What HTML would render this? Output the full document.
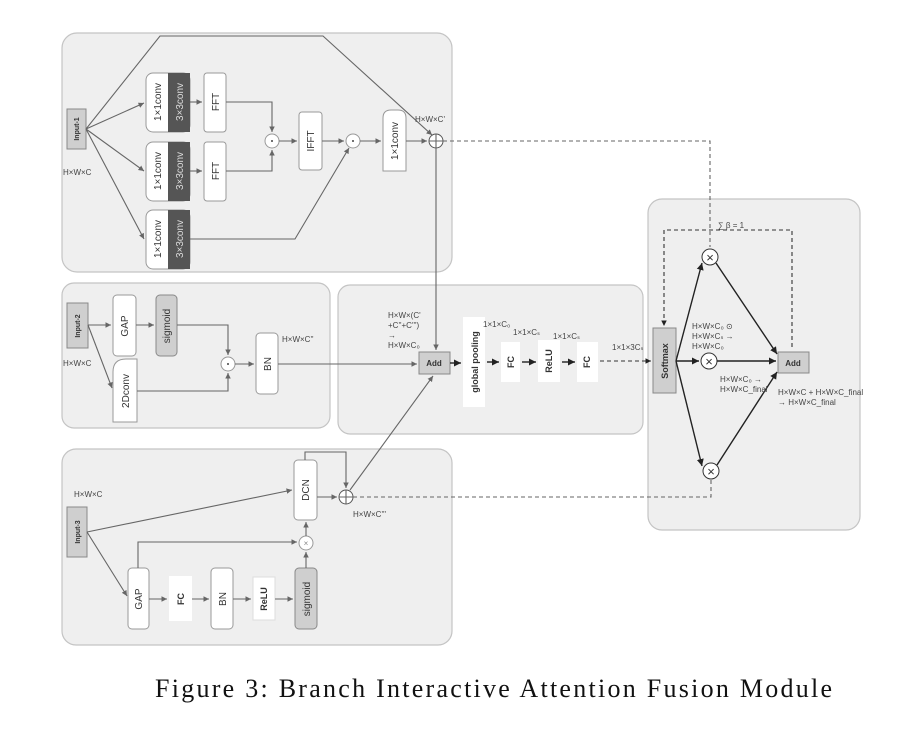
<!DOCTYPE html>
<html><head><meta charset="utf-8"><style>
html,body{margin:0;padding:0;background:#fff;}
svg{display:block;font-family:"Liberation Sans",Arial,sans-serif;}
.p{fill:#efefef;stroke:#c4c4c4;stroke-width:1.2}
.b{fill:#fff;stroke:#999;stroke-width:1}
.g{fill:#cfcfcf;stroke:#888;stroke-width:1}
.l{stroke:#666;stroke-width:1.1;fill:none}
.k{stroke:#222;stroke-width:1.4;fill:none}
.d{stroke:#666;stroke-width:1.1;fill:none;stroke-dasharray:4,3}
.t{font-size:8px;fill:#444}
.r{font-size:10px;fill:#333}
</style></head><body>
<svg width="921" height="737" viewBox="0 0 921 737">
<defs>
<marker id="a" markerWidth="6" markerHeight="6" refX="5" refY="3" orient="auto"><path d="M0,0.5 L5,3 L0,5.5z" fill="#666"/></marker>
<marker id="ak" markerWidth="6" markerHeight="6" refX="5" refY="3" orient="auto"><path d="M0,0.5 L5,3 L0,5.5z" fill="#222"/></marker>
</defs>
<rect class="p" x="62" y="33" width="390" height="239" rx="15"/>
<rect class="p" x="62" y="283" width="268" height="145" rx="12"/>
<rect class="p" x="62" y="449" width="390" height="196" rx="14"/>
<rect class="p" x="338" y="285" width="305" height="149" rx="12"/>
<rect class="p" x="648" y="199" width="212" height="331" rx="14"/>

<rect class="g" x="67" y="109" width="19" height="40"/>
<text transform="translate(79,129) rotate(-90)" text-anchor="middle" font-size="7" font-weight="bold" fill="#333">Input-1</text>
<text class="t" x="63" y="175">H×W×C</text>
<g>
<rect class="b" x="146" y="73" width="44" height="59" rx="7"/><rect x="168" y="73" width="22" height="59" fill="#555"/>
<rect class="b" x="146" y="142" width="44" height="59" rx="7"/><rect x="168" y="142" width="22" height="59" fill="#555"/>
<rect class="b" x="146" y="210" width="44" height="59" rx="7"/><rect x="168" y="210" width="22" height="59" fill="#555"/>
<text transform="translate(161,102) rotate(-90)" text-anchor="middle" class="r">1×1conv</text>
<text transform="translate(183,102) rotate(-90)" text-anchor="middle" class="r" style="fill:#ddd">3×3conv</text>
<text transform="translate(161,171) rotate(-90)" text-anchor="middle" class="r">1×1conv</text>
<text transform="translate(183,171) rotate(-90)" text-anchor="middle" class="r" style="fill:#ddd">3×3conv</text>
<text transform="translate(161,239) rotate(-90)" text-anchor="middle" class="r">1×1conv</text>
<text transform="translate(183,239) rotate(-90)" text-anchor="middle" class="r" style="fill:#ddd">3×3conv</text>
</g>
<rect class="b" x="204" y="73" width="22" height="59" rx="3"/><text transform="translate(219,102) rotate(-90)" text-anchor="middle" class="r">FFT</text>
<rect class="b" x="204" y="142" width="22" height="59" rx="3"/><text transform="translate(219,171) rotate(-90)" text-anchor="middle" class="r">FFT</text>
<rect class="b" x="299" y="112" width="23" height="58" rx="3"/><text transform="translate(314,141) rotate(-90)" text-anchor="middle" class="r">IFFT</text>
<path class="b" d="M383,171 V118 Q383,110 391,110 H398 Q406,110 406,118 V171 Z"/><text transform="translate(398,141) rotate(-90)" text-anchor="middle" class="r">1×1conv</text>
<circle class="b" cx="272" cy="141" r="7"/><circle cx="272" cy="141" r="1" fill="#444"/>
<circle class="b" cx="353" cy="141" r="7"/><circle cx="353" cy="141" r="1" fill="#444"/>
<circle class="b" cx="436" cy="141" r="7" style="stroke:#555"/><path class="l" d="M429,141H443M436,134V148"/>
<path class="l" marker-end="url(#a)" d="M86,129 L144,103"/>
<path class="l" marker-end="url(#a)" d="M86,129 L144,171"/>
<path class="l" marker-end="url(#a)" d="M86,129 L144,239"/>
<path class="l" marker-end="url(#a)" d="M86,129 L160,36 L323,36 L432,135"/>
<path class="l" marker-end="url(#a)" d="M190,102 H202"/><path class="l" marker-end="url(#a)" d="M190,171 H202"/>
<path class="l" marker-end="url(#a)" d="M226,102 H272 V132"/><path class="l" marker-end="url(#a)" d="M226,171 H272 V150"/>
<path class="l" marker-end="url(#a)" d="M279,141 H297"/><path class="l" marker-end="url(#a)" d="M322,141 H344"/>
<path class="l" marker-end="url(#a)" d="M190,239 H295 L349,148"/>
<path class="l" marker-end="url(#a)" d="M360,141 H381"/><path class="l" marker-end="url(#a)" d="M406,141 H427"/>
<text class="t" x="415" y="122" font-size="7">H×W×C'</text>
<path class="l" marker-end="url(#a)" d="M436,148 V350"/>

<rect class="g" x="67" y="303" width="21" height="45"/>
<text transform="translate(80,326) rotate(-90)" text-anchor="middle" font-size="7" font-weight="bold" fill="#333">Input-2</text>
<text class="t" x="63" y="366">H×W×C</text>
<rect class="b" x="113" y="295" width="23" height="61" rx="4"/><text transform="translate(128,326) rotate(-90)" text-anchor="middle" class="r">GAP</text>
<rect class="g" x="156" y="295" width="21" height="61" rx="4"/><text transform="translate(170,326) rotate(-90)" text-anchor="middle" class="r">sigmoid</text>
<path class="b" d="M113,422 V372 Q113,359 126,359 H137 V422 Z"/><text transform="translate(129,391) rotate(-90)" text-anchor="middle" class="r">2Dconv</text>
<rect class="b" x="256" y="333" width="22" height="61" rx="4"/><text transform="translate(271,364) rotate(-90)" text-anchor="middle" class="r">BN</text>
<circle class="b" cx="228" cy="364" r="7"/><circle cx="228" cy="364" r="1" fill="#444"/>
<path class="l" marker-end="url(#a)" d="M88,325 H111"/><path class="l" marker-end="url(#a)" d="M88,325 L112,388"/>
<path class="l" marker-end="url(#a)" d="M136,325 H154"/>
<path class="l" marker-end="url(#a)" d="M177,325 H228 V355"/><path class="l" marker-end="url(#a)" d="M137,391 H228 V373"/>
<path class="l" marker-end="url(#a)" d="M235,364 H254"/>
<text class="t" x="282" y="342" font-size="7">H×W×C''</text>
<path class="l" marker-end="url(#a)" d="M278,364 H417"/>

<rect class="g" x="67" y="507" width="20" height="50"/>
<text transform="translate(80,532) rotate(-90)" text-anchor="middle" font-size="7" font-weight="bold" fill="#333">Input-3</text>
<text class="t" x="74" y="497">H×W×C</text>
<rect class="b" x="294" y="460" width="23" height="60" rx="4"/><text transform="translate(309,490) rotate(-90)" text-anchor="middle" class="r">DCN</text>
<circle class="b" cx="346" cy="497" r="7" style="stroke:#555"/><path class="l" d="M339,497H353M346,490V504"/>
<circle class="b" cx="306" cy="543" r="7"/><text x="306" y="546" font-size="8" text-anchor="middle" fill="#888">×</text>
<rect class="b" x="128" y="568" width="21" height="61" rx="4"/><text transform="translate(142,599) rotate(-90)" text-anchor="middle" class="r">GAP</text>
<rect x="169" y="576" width="23" height="45" fill="#fff"/><text transform="translate(184,599) rotate(-90)" text-anchor="middle" font-size="9" font-weight="bold" fill="#333">FC</text>
<rect class="b" x="211" y="568" width="22" height="61" rx="4"/><text transform="translate(226,599) rotate(-90)" text-anchor="middle" class="r">BN</text>
<rect x="253" y="577" width="22" height="43" fill="#fff" stroke="#ddd"/><text transform="translate(267,599) rotate(-90)" text-anchor="middle" font-size="9" font-weight="bold" fill="#333">ReLU</text>
<rect class="g" x="295" y="568" width="22" height="61" rx="4"/><text transform="translate(310,599) rotate(-90)" text-anchor="middle" class="r">sigmoid</text>
<path class="l" marker-end="url(#a)" d="M87,532 L292,490"/>
<path class="l" marker-end="url(#a)" d="M87,532 L127,596"/>
<path class="l" marker-end="url(#a)" d="M149,599 H167"/><path class="l" marker-end="url(#a)" d="M192,599 H209"/>
<path class="l" marker-end="url(#a)" d="M233,599 H251"/><path class="l" marker-end="url(#a)" d="M275,599 H293"/>
<path class="l" marker-end="url(#a)" d="M138,568 V542 H297"/>
<path class="l" marker-end="url(#a)" d="M306,568 V552"/><path class="l" marker-end="url(#a)" d="M306,536 V522"/>
<path class="l" marker-end="url(#a)" d="M317,497 H337"/>
<path class="l" marker-end="url(#a)" d="M305,460 V452 H346 V488"/>
<text class="t" x="353" y="517" font-size="7">H×W×C'''</text>
<path class="l" marker-end="url(#a)" d="M350,490 L433,376"/>
<path class="d" d="M353,497 H711 V480"/>

<text class="t" x="388" y="318" font-size="7">H×W×(C'</text>
<text class="t" x="388" y="328" font-size="7">+C''+C''')</text>
<text class="t" x="388" y="338" font-size="7">→</text>
<text class="t" x="388" y="348" font-size="7">H×W×C₀</text>
<rect class="g" x="419" y="352" width="31" height="22"/><text x="434" y="366" text-anchor="middle" font-size="8" font-weight="bold" fill="#333">Add</text>
<rect x="463" y="317" width="22" height="90" fill="#fff"/><text transform="translate(478,362) rotate(-90)" text-anchor="middle" font-size="9" font-weight="bold" fill="#333">global pooling</text>
<rect x="501" y="342" width="19" height="40" fill="#fff"/><text transform="translate(514,362) rotate(-90)" text-anchor="middle" font-size="9" font-weight="bold" fill="#333">FC</text>
<rect x="538" y="340" width="22" height="42" fill="#fff"/><text transform="translate(552,361) rotate(-90)" text-anchor="middle" font-size="9" font-weight="bold" fill="#333">ReLU</text>
<rect x="577" y="342" width="21" height="40" fill="#fff"/><text transform="translate(590,362) rotate(-90)" text-anchor="middle" font-size="9" font-weight="bold" fill="#333">FC</text>
<path class="k" marker-end="url(#ak)" d="M450,363 H461"/><path class="k" marker-end="url(#ak)" d="M487,362 H499"/>
<path class="k" marker-end="url(#ak)" d="M522,362 H536"/><path class="k" marker-end="url(#ak)" d="M562,362 H575"/>
<text class="t" x="483" y="327" font-size="7">1×1×C₀</text>
<text class="t" x="513" y="335" font-size="7">1×1×Cₛ</text>
<text class="t" x="553" y="339" font-size="7">1×1×Cₛ</text>
<text class="t" x="612" y="350" font-size="7">1×1×3Cₛ</text>
<path class="d" style="stroke:#333" marker-end="url(#ak)" d="M600,361 H651"/>

<path class="d" d="M443,141 H710 V247"/>
<rect class="g" x="653" y="328" width="23" height="65"/><text transform="translate(668,361) rotate(-90)" text-anchor="middle" font-size="9" font-weight="bold" fill="#333">Softmax</text>
<path class="d" style="stroke:#333" marker-end="url(#ak)" d="M792,347 V230 H664 V326"/>
<text x="718" y="228" font-size="8" fill="#444">∑ β = 1</text>
<circle class="b" cx="710" cy="257" r="8" style="stroke:#333"/><text x="710" y="262" font-size="13" text-anchor="middle" fill="#333">×</text>
<circle class="b" cx="709" cy="361" r="8" style="stroke:#333"/><text x="709" y="366" font-size="13" text-anchor="middle" fill="#333">×</text>
<circle class="b" cx="711" cy="471" r="8" style="stroke:#333"/><text x="711" y="476" font-size="13" text-anchor="middle" fill="#333">×</text>
<rect class="g" x="778" y="352" width="31" height="21"/><text x="793" y="366" text-anchor="middle" font-size="8" font-weight="bold" fill="#333">Add</text>
<path class="k" marker-end="url(#ak)" d="M676,361 L702,263"/>
<path class="k" marker-end="url(#ak)" d="M676,361 H699"/>
<path class="k" marker-end="url(#ak)" d="M676,361 L702,466"/>
<path class="k" marker-end="url(#ak)" d="M716,263 L777,354"/>
<path class="k" marker-end="url(#ak)" d="M717,361 H776"/>
<path class="k" marker-end="url(#ak)" d="M717,465 L777,372"/>
<text class="t" x="692" y="329" font-size="7">H×W×C₀ ⊙</text>
<text class="t" x="692" y="339" font-size="7">H×W×Cₛ  →</text>
<text class="t" x="692" y="349" font-size="7">H×W×C₀</text>
<text class="t" x="720" y="382" font-size="7">H×W×C₀ →</text>
<text class="t" x="720" y="392" font-size="7">H×W×C_final</text>
<text class="t" x="778" y="395" font-size="7">H×W×C + H×W×C_final</text>
<text class="t" x="778" y="405" font-size="7">→ H×W×C_final</text>

<text x="155" y="697" font-family="Liberation Serif,serif" font-size="26" fill="#111" textLength="677" lengthAdjust="spacing">Figure 3: Branch Interactive Attention Fusion Module</text>
</svg>
</body></html>
